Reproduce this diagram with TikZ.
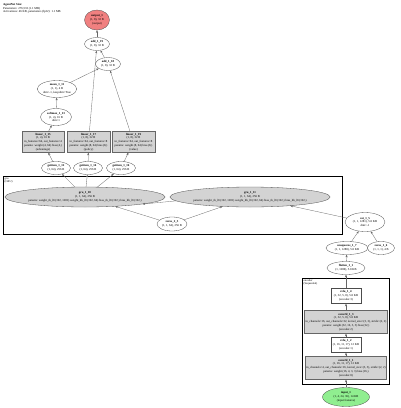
\documentclass[tikz,border=0pt]{standalone}
\usepackage{fontspec}
\setmainfont{Liberation Serif}
\usetikzlibrary{shapes.geometric,arrows.meta,positioning}
\definecolor{outcol}{HTML}{F08080}
\definecolor{incol}{HTML}{90EE90}
\definecolor{laycol}{HTML}{D3D3D3}
\newcommand{\nm}[1]{\textbf{#1}}

\begin{document}
\begin{tikzpicture}[x=1pt,y=-1pt,font=\fontsize{3}{3.8}\selectfont,
  >={Stealth[length=2.6pt,width=2pt]},
  op/.style={ellipse,draw=black!70,line width=.3pt,inner sep=0pt,align=center,fill=white},
  layer/.style={rectangle,draw=black!60,line width=.3pt,fill=laycol,inner sep=1pt,align=center},
  act/.style={rectangle,draw=black!70,line width=.3pt,fill=white,inner sep=1pt,align=center},
  conn/.style={->,draw=black!60,line width=.3pt},
  grp/.style={rectangle,draw=black,line width=.9pt,inner sep=0pt},
  grplbl/.style={anchor=north west,align=left,inner sep=0pt,font=\fontsize{2.8}{3.3}\selectfont}]
\useasboundingbox (0,0) rectangle (400,408);
\node[anchor=north west,align=left,inner sep=0pt] (hdr) at (3,3)
  {\nm{AgentNet Size:}\\Parameters: 276,533 (1.1 MB)\\Activations: 46 KB, parameters (fp32): 1.1 MB};
% heads
\node[op,fill=outcol,minimum width=25,minimum height=20] (out) at (97,20) {\nm{output\_1}\\(1, 8), 32 B\\(output)};
\node[op,minimum width=25,minimum height=13] (add19) at (97,44) {\nm{add\_1\_19}\\(1, 8), 32 B};
\node[op,minimum width=25,minimum height=13] (add18) at (108,64) {\nm{add\_1\_18}\\(1, 8), 32 B};
\node[op,minimum width=34,minimum height=17] (mean) at (57,89) {\nm{mean\_1\_11}\\(1, 1), 4 B\\dim=-1, keepdim=True};
\node[op,minimum width=31,minimum height=17] (soft) at (56,117) {\nm{softmax\_1\_13}\\(1, 4), 16 B\\dim=1};
\node[layer,minimum width=42,minimum height=21] (lin15) at (43,142)
  {\nm{linear\_1\_15}\\(1, 4), 16 B\\in\_features=64, out\_features=4\\params: weight (4, 64) bias (4,)\\(advantage)};
\node[layer,minimum width=43,minimum height=21] (lin17) at (88.5,142)
  {\nm{linear\_1\_17}\\(1, 8), 32 B\\in\_features=64, out\_features=8\\params: weight (8, 64) bias (8,)\\(policy)};
\node[layer,minimum width=43,minimum height=21] (lin19) at (133.5,142)
  {\nm{linear\_1\_19}\\(1, 8), 32 B\\in\_features=64, out\_features=8\\params: weight (8, 64) bias (8,)\\(value)};
\node[op,minimum width=29,minimum height=13] (get12) at (56,168) {\nm{getitem\_1\_12}\\(1, 64), 256 B};
\node[op,minimum width=29,minimum height=13] (get14) at (88,168) {\nm{getitem\_1\_14}\\(1, 64), 256 B};
\node[op,minimum width=29,minimum height=13] (get16) at (121,168) {\nm{getitem\_1\_16}\\(1, 64), 256 B};
% recurrent core
\node[grp,minimum width=339,minimum height=58,anchor=north west] (grubox) at (3,176) {};
\node[grplbl] (grulbl) at (4.5,177.5) {gru\\(GRU)};
\node[op,fill=laycol,minimum width=158,minimum height=20] (gru10) at (85,197)
  {\nm{gru\_1\_10}\\(1, 1, 64), 256 B\\params: weight\_ih\_l0 (192, 1281) weight\_hh\_l0 (192, 64) bias\_ih\_l0 (192,) bias\_hh\_l0 (192,)};
\node[op,fill=laycol,minimum width=155,minimum height=20] (gru11) at (250,197)
  {\nm{gru\_1\_11}\\(1, 1, 64), 256 B\\params: weight\_ih\_l0 (192, 1281) weight\_hh\_l0 (192, 64) bias\_ih\_l0 (192,) bias\_hh\_l0 (192,)};
\node[op,minimum width=30,minimum height=14] (zeros25) at (172,224) {\nm{zeros\_2\_5}\\(1, 1, 64), 256 B};
\node[op,minimum width=40,minimum height=19] (cat) at (365,222) {\nm{cat\_1\_5}\\(1, 1, 1281), 5.0 KB\\dim=-1};
\node[op,minimum width=42,minimum height=13] (unsq) at (347,248) {\nm{unsqueeze\_1\_7}\\(1, 1, 1280), 5.0 KB};
\node[op,minimum width=27,minimum height=13] (zeros16) at (381,248) {\nm{zeros\_1\_6}\\(1, 1, 1), 4 B};
\node[op,minimum width=38,minimum height=13] (flat) at (346,268) {\nm{flatten\_1\_1}\\(1, 1280), 5.0 KB};
% encoder
\node[grp,minimum width=87,minimum height=106,anchor=north west] (encbox) at (302,278) {};
\node[grplbl] (enclbl) at (303.5,279.5) {encoder\\(Sequential)};
\node[act,minimum width=30,minimum height=15] (relu4) at (346,296) {\nm{relu\_1\_4}\\(1, 32, 5, 8), 5.0 KB\\(encoder.3)};
\node[layer,minimum width=81,minimum height=23] (conv3) at (346,322)
  {\nm{conv2d\_1\_3}\\(1, 32, 5, 8), 5.0 KB\\in\_channels=16, out\_channels=32, kernel\_size=(3, 3), stride=(2, 2)\\params: weight (32, 16, 3, 3) bias (32,)\\(encoder.2)};
\node[act,minimum width=30,minimum height=15] (relu2) at (346,345) {\nm{relu\_1\_2}\\(1, 16, 11, 17), 12 KB\\(encoder.1)};
\node[layer,minimum width=81,minimum height=23] (conv1) at (346,368)
  {\nm{conv2d\_1\_1}\\(1, 16, 11, 17), 12 KB\\in\_channels=4, out\_channels=16, kernel\_size=(3, 3), stride=(2, 2)\\params: weight (16, 4, 3, 3) bias (16,)\\(encoder.0)};
\node[op,fill=incol,minimum width=47,minimum height=19] (in) at (346,397) {\nm{input\_1}\\(1, 4, 24, 36), 14 KB\\(input features)};
% connections
\draw[conn] (in) -- (conv1);
\draw[conn] (conv1) -- (relu2);
\draw[conn] (relu2) -- (conv3);
\draw[conn] (conv3) -- (relu4);
\draw[conn] (relu4) -- (flat);
\draw[conn] (flat) -- (unsq);
\draw[conn] (unsq) -- (cat);
\draw[conn] (zeros16) -- (cat);
\draw[conn] (cat) -- (gru11);
\draw[conn] (zeros25) -- (gru11);
\draw[conn] (zeros25) -- (gru10);
\draw[conn] (gru11.183) -- (gru10.-7);
\draw[conn] (gru10) -- (get12);
\draw[conn] (gru10) -- (get14);
\draw[conn] (gru10) -- (get16);
\draw[conn] (get12) -- (lin15);
\draw[conn] (get14) -- (lin17);
\draw[conn] (get16) -- (lin19);
\draw[conn] (lin15) -- (soft);
\draw[conn] (soft) -- (mean);
\draw[conn] (mean) -- (add18);
\draw[conn] (lin19) -- (add18);
\draw[conn] (lin17) -- (add19);
\draw[conn] (add18) -- (add19);
\draw[conn] (add19) -- (out);
\end{tikzpicture}
\end{document}
